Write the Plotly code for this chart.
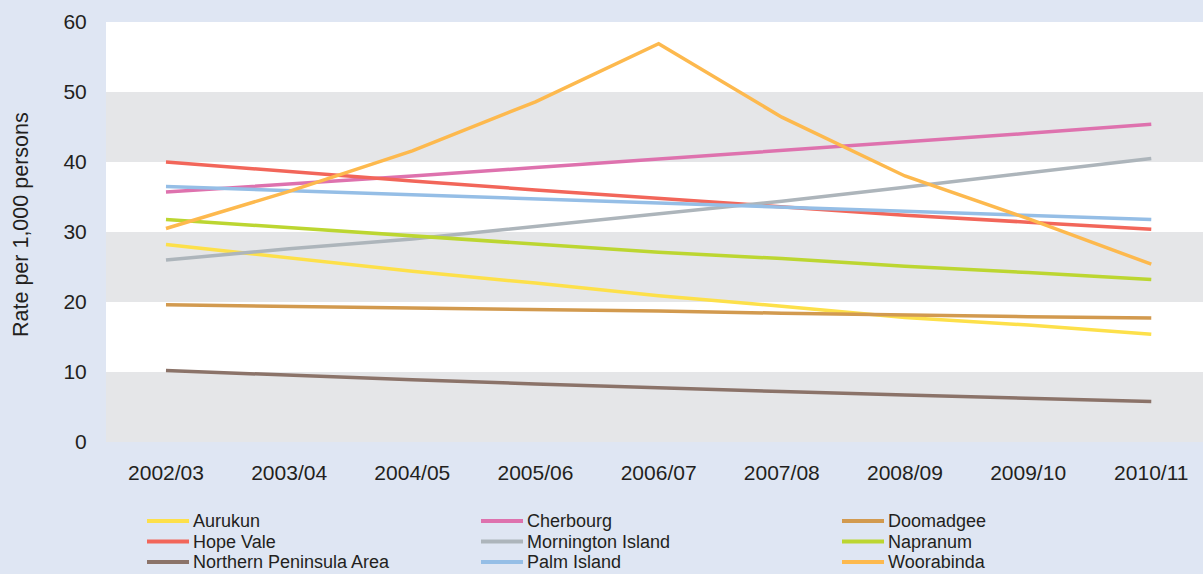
import plotly.graph_objects as go

years = ["2002/03", "2003/04", "2004/05", "2005/06", "2006/07",
         "2007/08", "2008/09", "2009/10", "2010/11"]

aurukun = [28.2, 26.3, 24.4, 22.7, 20.9, 19.4, 17.8, 16.7, 15.4]
cherbourg = [35.7, 36.8, 38.0, 39.2, 40.4, 41.6, 42.9, 44.1, 45.4]
doomadgee = [19.6, 19.4, 19.2, 19.0, 18.7, 18.4, 18.1, 17.9, 17.7]
hope_vale = [40.0, 38.6, 37.3, 36.0, 34.8, 33.7, 32.4, 31.4, 30.4]
mornington = [26.0, 27.6, 29.0, 30.8, 32.6, 34.4, 36.4, 38.4, 40.5]
napranum = [31.8, 30.6, 29.5, 28.3, 27.1, 26.2, 25.1, 24.2, 23.2]
npa = [10.2, 9.5, 8.9, 8.3, 7.7, 7.2, 6.7, 6.2, 5.8]
palm_island = [36.5, 35.9, 35.3, 34.7, 34.1, 33.5, 32.9, 32.3, 31.8]
woorabinda = [30.5, 35.8, 41.6, 48.6, 56.9, 46.4, 38.0, 31.9, 25.4]

series = [
    ("Aurukun", aurukun, "#FDE04A"),
    ("Cherbourg", cherbourg, "#DE72AE"),
    ("Doomadgee", doomadgee, "#D29A4F"),
    ("Hope Vale", hope_vale, "#F2665A"),
    ("Mornington Island", mornington, "#ADB5BB"),
    ("Napranum", napranum, "#BCD631"),
    ("Northern Peninsula Area", npa, "#8B7369"),
    ("Palm Island", palm_island, "#95BEE6"),
    ("Woorabinda", woorabinda, "#FDB94E"),
]

bands = [(0, 10), (20, 30), (40, 50)]

W, H = 1203, 574
ML, MR, MT, MB = 106, 0, 22, 132
PW, PH = W - ML - MR, H - MT - MB


def px_x(px):
    return (px - ML) / PW


def px_y(py):
    return (H - MB - py) / PH


bg = "#DFE6F3"
font = "Liberation Sans, Arial, sans-serif"
txt = "#231F20"

fig = go.Figure()
for name, vals, col in series:
    fig.add_trace(go.Scatter(x=years, y=vals, name=name, mode="lines",
                             line=dict(color=col, width=3.5), showlegend=False))

for lo, hi in bands:
    fig.add_shape(type="rect", xref="paper", yref="y", x0=0, x1=1, y0=lo, y1=hi,
                  fillcolor="#E5E6E8", line=dict(width=0), layer="below")

# legend drawn as line swatches and labels (3 columns x 3 rows)
col_sample_x = [147, 481, 842]
row_y = [521, 541.5, 562]
for i, (name, _vals, col) in enumerate(series):
    r, c = divmod(i, 3)
    x0 = col_sample_x[c]
    y = row_y[r]
    fig.add_shape(type="line", xref="paper", yref="paper",
                  x0=px_x(x0), x1=px_x(x0 + 42), y0=px_y(y), y1=px_y(y),
                  line=dict(color=col, width=4))
    fig.add_annotation(xref="paper", yref="paper", x=px_x(x0 + 44), y=px_y(y),
                       text=name, showarrow=False, xanchor="left",
                       yanchor="middle",
                       font=dict(size=18, family=font, color=txt))

fig.add_annotation(xref="paper", yref="paper", x=px_x(21), y=px_y(225),
                   text="Rate per 1,000 persons", showarrow=False,
                   textangle=-90, xanchor="center", yanchor="middle",
                   font=dict(size=21.5, family=font, color=txt))

fig.update_layout(
    width=W, height=H,
    margin=dict(l=ML, r=MR, t=MT, b=MB),
    paper_bgcolor=bg, plot_bgcolor="white",
    font=dict(family=font, color=txt, size=21),
    showlegend=False,
    xaxis=dict(type="category", range=[-0.487, 8.42], showgrid=False,
               zeroline=False, showline=False, ticks="outside", ticklen=12,
               tickcolor=bg, tickfont=dict(size=21)),
    yaxis=dict(range=[0, 60], tickvals=[0, 10, 20, 30, 40, 50, 60],
               showgrid=False, zeroline=False, showline=False,
               ticks="outside", ticklen=14, tickcolor=bg,
               tickfont=dict(size=21)),
)

fig.write_html("out.html", config={"displayModeBar": False},
               post_script="document.body.style.margin='0';"
                           "document.body.style.overflow='hidden';")
